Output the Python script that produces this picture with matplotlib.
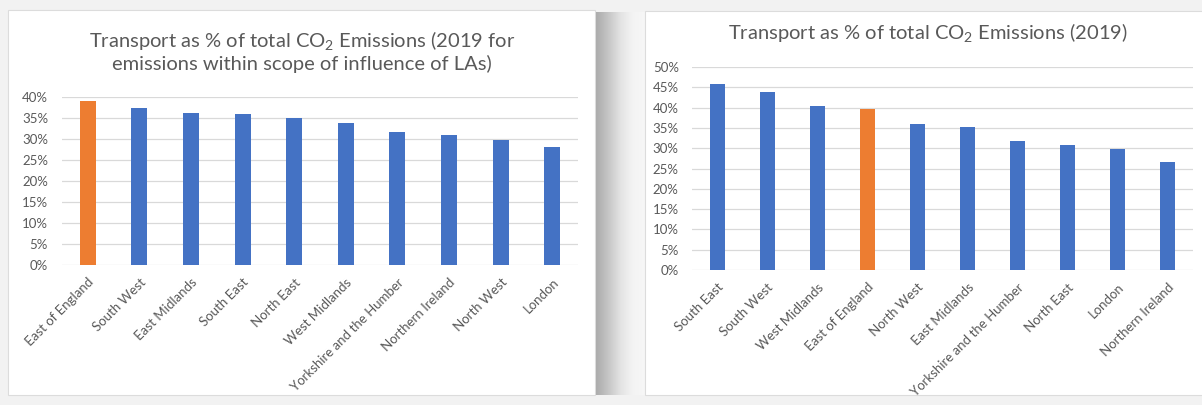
import numpy as np
import matplotlib
matplotlib.use("Agg")
import matplotlib.pyplot as plt
from matplotlib.patches import Rectangle
from matplotlib.colors import LinearSegmentedColormap
from matplotlib.ticker import PercentFormatter

# Regional transport share of total CO2 emissions (%)
regions_la = ["East of England", "South West", "East Midlands", "South East",
              "North East", "West Midlands", "Yorkshire and the Humber",
              "Northern Ireland", "North West", "London"]
share_la = [39.0, 37.3, 36.2, 35.9, 34.9, 33.9, 31.6, 31.0, 29.8, 28.0]

regions_all = ["South East", "South West", "West Midlands", "East of England",
               "North West", "East Midlands", "Yorkshire and the Humber",
               "North East", "London", "Northern Ireland"]
share_all = [45.9, 43.8, 40.3, 39.7, 35.9, 35.3, 31.8, 30.7, 29.8, 26.6]

highlight = "East of England"

title_la = "Transport as % of total CO$_2$ Emissions (2019 for\nemissions within scope of influence of LAs)"
title_all = "Transport as % of total CO$_2$ Emissions (2019)"

BLUE = "#4472C4"
ORANGE = "#ED7D31"
GRID = "#D9D9D9"
TEXT = "#595959"

plt.rcParams["font.family"] = ["Lato", "DejaVu Sans"]
plt.rcParams["mathtext.default"] = "regular"

W, H = 1202, 405
fig = plt.figure(figsize=(W / 100, H / 100), dpi=100, facecolor="#F2F2F2")

# Background layer in pixel coordinates: two white cards and a soft drop shadow
bg = fig.add_axes([0, 0, 1, 1], zorder=-5)
bg.set_xlim(0, W)
bg.set_ylim(H, 0)
bg.axis("off")
shadow_cmap = LinearSegmentedColormap.from_list(
    "shadow", ["#A9A9A9", "#C4C4C4", "#E2E2E2", "#F3F3F3", "#F7F7F7"])
grad = np.vstack([np.linspace(0, 1, 128)] * 2)
bg.imshow(grad, extent=(595, 645, 395, 12), cmap=shadow_cmap,
          aspect="auto", zorder=1, interpolation="bilinear")
bg.add_patch(Rectangle((8, 10), 587, 385, facecolor="white", edgecolor="#DCDCDC", lw=0.8, zorder=2))
bg.add_patch(Rectangle((645, 11), 570, 384, facecolor="white", edgecolor="#DCDCDC", lw=0.8, zorder=2))


def px_axes(x0, x1, y_top, y_bottom):
    return fig.add_axes([x0 / W, (H - y_bottom) / H, (x1 - x0) / W, (y_bottom - y_top) / H])


def bar_panel(ax, cats, vals, ymax, width, ypad):
    colors = [ORANGE if c == highlight else BLUE for c in cats]
    x = np.arange(len(cats))
    ax.bar(x, vals, width=width, color=colors, zorder=3)
    ax.set_xlim(-0.5, len(cats) - 0.5)
    ax.set_ylim(0, ymax)
    ax.set_yticks(np.arange(0, ymax + 0.1, 5))
    ax.yaxis.set_major_formatter(PercentFormatter(decimals=0))
    ax.set_xticks(x)
    ax.set_xticklabels(cats, rotation=45, ha="right", rotation_mode="anchor",
                       fontsize=9.5, color=TEXT)
    ax.tick_params(axis="x", length=0, pad=8)
    ax.tick_params(axis="y", length=0, pad=ypad, labelsize=9.5, labelcolor=TEXT)
    ax.grid(axis="y", color=GRID, lw=0.9, zorder=0)
    ax.set_axisbelow(True)
    for s in ax.spines.values():
        s.set_visible(False)
    ax.set_facecolor("none")


ax1 = px_axes(62, 578, 97, 265)
bar_panel(ax1, regions_la, share_la, 40, 0.31, 10)
fig.text(302 / W, 1 - 51 / H, title_la, ha="center", va="center",
         fontsize=14.5, color=TEXT, linespacing=1.2)

ax2 = px_axes(692, 1193, 67, 270)
bar_panel(ax2, regions_all, share_all, 50, 0.30, 9.5)
fig.text(928 / W, 1 - 32 / H, title_all, ha="center", va="center",
         fontsize=14.5, color=TEXT)

fig.savefig("out.png", dpi=100, facecolor=fig.get_facecolor())
